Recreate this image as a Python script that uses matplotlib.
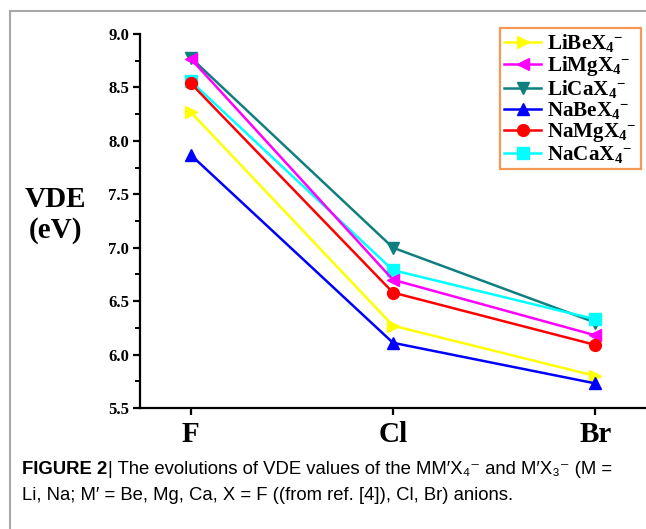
import matplotlib
matplotlib.use("Agg")
import matplotlib.pyplot as plt
from matplotlib.lines import Line2D
from matplotlib.ticker import MultipleLocator

plt.rcParams['mathtext.fontset'] = 'custom'
plt.rcParams['mathtext.rm'] = 'Liberation Serif:bold'
plt.rcParams['mathtext.it'] = 'Liberation Serif:bold'
plt.rcParams['mathtext.bf'] = 'Liberation Serif:bold'

categories = ["F", "Cl", "Br"]
series_names = [r"LiBeX$_4$$^{-}$", r"LiMgX$_4$$^{-}$", r"LiCaX$_4$$^{-}$",
                r"NaBeX$_4$$^{-}$", r"NaMgX$_4$$^{-}$", r"NaCaX$_4$$^{-}$"]
libe = [8.27, 6.27, 5.80]
limg = [8.77, 6.70, 6.18]
lica = [8.78, 7.00, 6.30]
nabe = [7.87, 6.11, 5.73]
namg = [8.54, 6.58, 6.09]
naca = [8.56, 6.79, 6.33]
values = [libe, limg, lica, nabe, namg, naca]
colors = ["#FFFF00", "#FF00FF", "#0F7F7F", "#0000FF", "#FF0000", "#00FFFF"]
markers = [">", "<", "v", "^", "o", "s"]
zorders = [3, 6, 4, 3, 6, 5]

fig = plt.figure(figsize=(6.46, 5.29), dpi=100)
W, H = 646, 529
ax = fig.add_axes([140 / W, 1 - 408 / H, (646 - 140) / W, (408 - 34) / H])

x = list(range(len(categories)))
for name, vals, c, m, z in zip(series_names, values, colors, markers, zorders):
    ax.plot(x, vals, color=c, marker=m, markersize=8.5, linewidth=1.8,
            label=name, zorder=z, clip_on=False)

ax.set_xlim(-0.25, 2.25)
ax.set_ylim(5.5, 9.0)
ax.set_xticks(x)
ax.set_xticklabels(categories, fontfamily="Liberation Serif",
                   fontweight="bold", fontsize=21)
ax.yaxis.set_major_locator(MultipleLocator(0.5))
ax.yaxis.set_minor_locator(MultipleLocator(0.25))
ax.set_yticklabels([f"{v:.1f}" for v in ax.get_yticks()],
                   fontfamily="Liberation Serif", fontweight="bold", fontsize=12)
ax.tick_params(axis="y", which="major", direction="out", length=5, width=1.6, pad=3)
ax.tick_params(axis="y", which="minor", direction="out", length=3.5, width=1.4)
ax.tick_params(axis="x", which="major", direction="out", length=5, width=1.6, pad=4)
for s in ["top", "right"]:
    ax.spines[s].set_visible(False)
for s in ["left", "bottom"]:
    ax.spines[s].set_linewidth(1.6)

fig.text(55 / W, 1 - 215 / H, "VDE\n(eV)", ha="center", va="center",
         fontfamily="Liberation Serif", fontweight="bold", fontsize=21,
         linespacing=1.2)

leg = ax.legend(loc="upper right", bbox_to_anchor=(641 / W, 1 - 28 / H),
                bbox_transform=fig.transFigure, frameon=True, fancybox=False,
                prop={"family": "Liberation Serif", "weight": "bold", "size": 15.2},
                handlelength=1.75, handletextpad=0.3, labelspacing=0.0,
                borderpad=0.2, borderaxespad=0)
leg.get_frame().set_edgecolor("#F07F2A")
leg.get_frame().set_linewidth(1.6)

# caption frame lines
fig.add_artist(Line2D([10 / W, 1.0], [1 - 11 / H, 1 - 11 / H], color="#A8A8A8",
                      linewidth=1.5, transform=fig.transFigure))
fig.add_artist(Line2D([10 / W, 10 / W], [1 - 11 / H, 0], color="#A8A8A8",
                      linewidth=1.5, transform=fig.transFigure))

cap_font = ["Liberation Sans", "DejaVu Sans"]
cap_size = 13.3
t1 = fig.text(22 / W, 1 - 470 / H, "FIGURE 2", fontfamily=cap_font,
              fontweight="bold", fontsize=cap_size, va="center", ha="left")
fig.canvas.draw()
bb = t1.get_window_extent(renderer=fig.canvas.get_renderer())
x_next = (bb.x1 + 1) / W
fig.text(x_next, 1 - 470 / H,
         "| The evolutions of VDE values of the MM\u2032X\u2084\u207b and M\u2032X\u2083\u207b (M =",
         fontfamily=cap_font, fontsize=cap_size, va="center", ha="left")
fig.text(22 / W, 1 - 496 / H,
         "Li, Na; M\u2032 = Be, Mg, Ca, X = F ((from ref. [4]), Cl, Br) anions.",
         fontfamily=cap_font, fontsize=cap_size, va="center", ha="left")

fig.savefig("out.png", dpi=100)
